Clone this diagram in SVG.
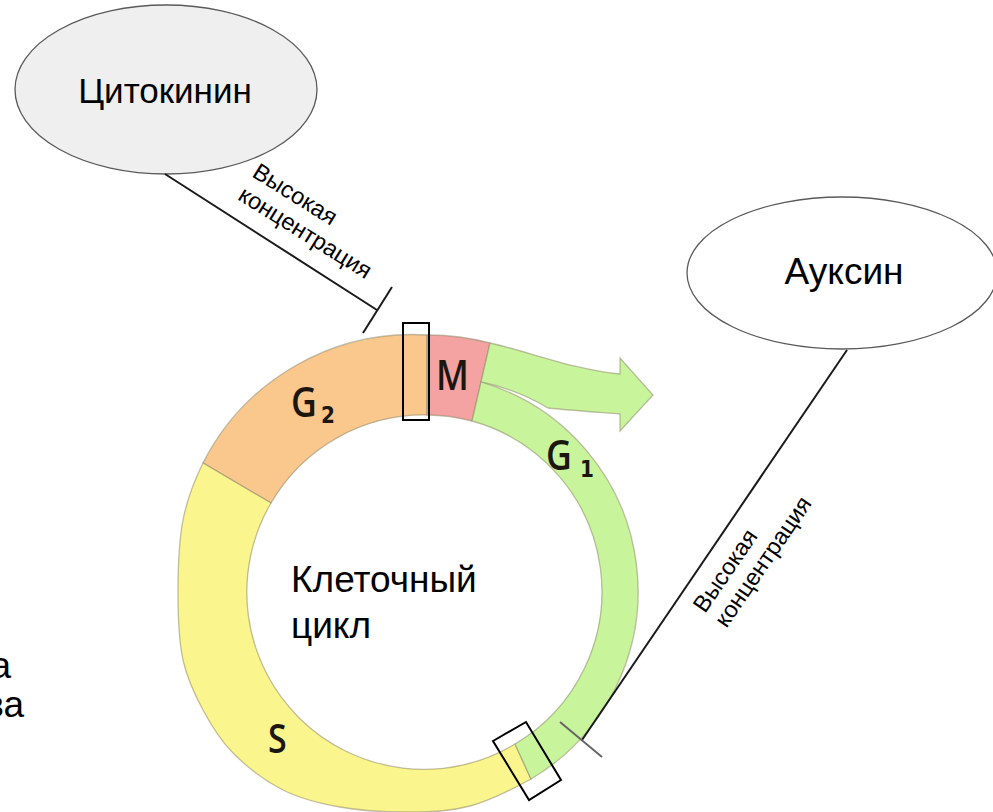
<svg xmlns="http://www.w3.org/2000/svg" width="993" height="812" viewBox="0 0 993 812">
<style>
.lbl{font-family:"Liberation Sans",Arial,sans-serif;fill:#000}
.rot{font-size:23.5px}
.seg{stroke:#8f8a6a;stroke-opacity:.55;stroke-width:1.3}
.ph{font-family:"Open Sans","Noto Sans",sans-serif;fill:#1d160f;font-weight:600}
.sub{font-family:"DejaVu Sans",sans-serif;fill:#1d160f;font-weight:bold}
.conn{stroke:#1a1a1a;stroke-width:2;fill:none}
.node{stroke:#5a5a5a;stroke-width:1.3}
.box{fill:none;stroke:#000;stroke-width:2}
</style>
<rect width="993" height="812" fill="#fff"/>

<g id="cycle">
  <path id="seg-g2" class="seg" fill="#FAC88C" d="M203,463 A235,235 0 0 1 427,335 L427,415 A177,177 0 0 0 271,503 Z"/>
  <path id="seg-s" class="seg" fill="#FAF58C" d="M531,779 C513.5,788.7 490.2,800.5 470,806 C449.8,811.5 431.7,811.8 410,812 C388.3,812.2 361.2,810.7 340,807 C318.8,803.3 300.8,799 283,790 C265.2,781 246.3,766.3 233,753 C219.7,739.7 211.3,725.5 203,710 C194.7,694.5 187.2,679.5 183,660 C178.8,640.5 178,616.3 178,593 C178,569.7 178.8,541.7 183,520 C187.2,498.3 194,481.3 203,463 L271,503 A177,177 0 0 0 515,744 Z"/>
  <path id="seg-m" class="seg" fill="#F4A2A2" d="M427,335 A238,238 0 0 1 490,343 L472,421 A177,177 0 0 0 427,415 Z"/>
  <path id="exit-arrow" class="seg" fill="#C8F59B" d="M490,343 C530,352 575,370 620,374 L620,358 L653,395 L620,431 L620,414 C595,412 568,410 548,408 A218,218 0 0 0 481,382 Z"/>
  <path id="seg-g1" class="seg" fill="#C8F59B" d="M481,382 A218,218 0 0 1 531,779 L515,744 A177,177 0 0 0 472,421 Z"/>
  <text class="ph" font-size="41" transform="translate(291,417) scale(0.87,1)">G</text>
  <text class="sub" font-size="23" transform="translate(321,423) scale(0.87,1)">2</text>
  <text class="ph" font-size="41" transform="translate(436,390) scale(0.87,1)">M</text>
  <text class="ph" font-size="41" transform="translate(546,470) scale(0.87,1)">G</text>
  <text class="sub" font-size="23" transform="translate(580,477) scale(0.87,1)">1</text>
  <text class="ph" font-size="39" transform="translate(268,753) scale(0.87,1)">S</text>
  <text class="lbl" font-size="37" x="291" y="592">Клеточный</text>
  <text class="lbl" font-size="37" x="291" y="638">цикл</text>
  <rect class="box" x="403" y="323" width="26" height="97"/>
  <polygon class="box" points="493,741 526,722 561,780 529,800"/>
</g>

<g id="node-cytokinin">
  <ellipse class="node" cx="166" cy="89.5" rx="151" ry="84.5" fill="#EFEFEF"/>
  <text class="lbl" font-size="35" x="165" y="103" text-anchor="middle">Цитокинин</text>
</g>

<g id="node-auxin">
  <ellipse class="node" cx="842" cy="273" rx="155" ry="76" fill="#FFFFFF"/>
  <text class="lbl" font-size="37" x="844" y="284" text-anchor="middle">Ауксин</text>
</g>

<g id="connectors">
  <line class="conn" x1="165" y1="174" x2="377" y2="310"/>
  <line class="conn" x1="392" y1="287" x2="363" y2="333"/>
  <line class="conn" x1="847" y1="350" x2="582" y2="740"/>
  <line x1="560" y1="722" x2="602" y2="757" stroke="#666" stroke-width="2"/>
  <text class="lbl rot" transform="translate(251,176) rotate(32)"><tspan x="0" y="0">Высокая</tspan><tspan x="0" y="27">концентрация</tspan></text>
  <text class="lbl rot" transform="translate(705,614) rotate(-55.5)"><tspan x="0" y="0">Высокая</tspan><tspan x="0" y="26">концентрация</tspan></text>
</g>

<g id="cut-text">
  <text class="lbl" font-size="37" x="11" y="678" text-anchor="end">а</text>
  <text class="lbl" font-size="37" x="24" y="717" text-anchor="end">ва</text>
</g>
</svg>
